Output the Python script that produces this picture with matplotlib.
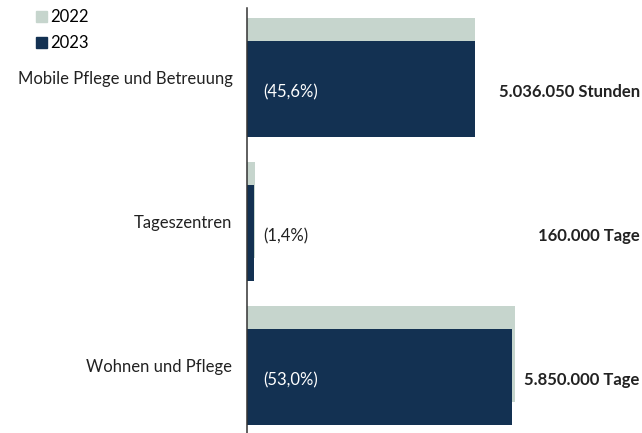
import matplotlib.pyplot as plt
from matplotlib.patches import Patch
from matplotlib.transforms import blended_transform_factory

plt.rcParams['font.family'] = ['Lato', 'DejaVu Sans']

categories = ['Mobile Pflege und Betreuung', 'Tageszentren', 'Wohnen und Pflege']
share_2022 = [45.6, 1.5, 53.6]
share_2023 = [45.6, 1.4, 53.0]
pct_labels = ['(45,6%)', '(1,4%)', '(53,0%)']
value_labels = ['5.036.050 Stunden', '160.000 Tage', '5.850.000 Tage']

c2022 = '#c6d5cd'
c2023 = '#133152'
txt = '#222222'

fig = plt.figure(figsize=(6.42, 4.33), dpi=100)
ax = fig.add_axes([247 / 642, 0, 395 / 642, 425 / 433])

ypos = list(range(len(categories)))
off = 0.082
h = 0.667
ax.barh([y - off for y in ypos], share_2022, height=h, color=c2022, label='2022')
ax.barh([y + off for y in ypos], share_2023, height=h, color=c2023, label='2023')

ax.set_xlim(0, 79)
ax.set_ylim(2.469, -0.483)
ax.set_yticks(ypos)
ax.set_yticklabels(categories, fontsize=12, color=txt)
ax.tick_params(axis='y', length=0, pad=10.5)
ax.set_xticks([])
for s in ['top', 'right', 'bottom']:
    ax.spines[s].set_visible(False)
ax.spines['left'].set_linewidth(1.1)
ax.spines['left'].set_color('#333333')

trans = blended_transform_factory(ax.transAxes, ax.transData)
for y, val, p, v in zip(ypos, share_2023, pct_labels, value_labels):
    # label sits inside the bar when it fits, otherwise beside it in dark
    col = 'white' if val > 10 else txt
    ax.text(3.2, y + off + 0.02, p, ha='left', va='center', fontsize=12, color=col)
    ax.text(0.994, y + off + 0.02, v, transform=trans, ha='right', va='center',
            fontsize=12, fontweight='bold', color=txt)

handles = [Patch(color=c2022), Patch(color=c2023)]
fig.legend(handles, ['2022', '2023'], loc='upper left', bbox_to_anchor=(21 / 642, 1 + 6 / 433),
           frameon=False, fontsize=12, handlelength=0.65, handleheight=0.65,
           handletextpad=0.2, labelspacing=0.62)

fig.savefig('out.png', dpi=100)
